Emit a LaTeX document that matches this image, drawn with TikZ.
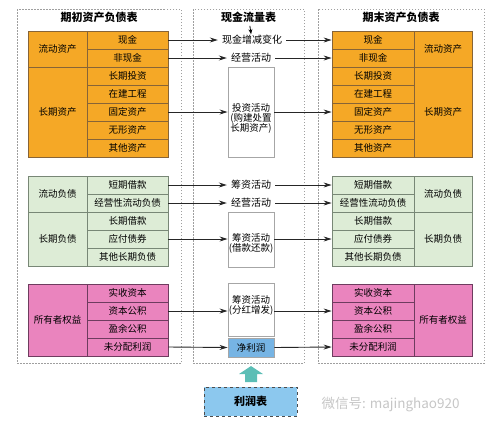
\documentclass[tikz,border=0pt]{standalone}
\usepackage{fontspec}
\setmainfont{Noto Sans CJK SC}
\usetikzlibrary{positioning,arrows.meta,calc}
\definecolor{orng}{RGB}{245,168,38}
\definecolor{orngline}{RGB}{135,100,55}
\definecolor{grn}{RGB}{221,236,214}
\definecolor{grnline}{RGB}{120,135,118}
\definecolor{pnk}{RGB}{234,132,190}
\definecolor{pnkline}{RGB}{110,60,95}
\definecolor{sky}{RGB}{140,200,238}
\definecolor{skyd}{RGB}{118,180,228}
\definecolor{tealc}{RGB}{92,190,182}
\newlength{\subw}
\setlength{\subw}{81pt}
\newlength{\catw}
\setlength{\catw}{59pt}
\tikzset{
  cell/.style  ={draw,inner sep=0pt,minimum height=18pt,line width=0.8pt,
                 font=\fontsize{9.5}{11}\selectfont},
  sub/.style   ={cell,minimum width=\subw},
  cat/.style   ={cell,minimum width=\catw},
  oc/.style    ={fill=orng,draw=orngline},
  gc/.style    ={fill=grn,draw=grnline},
  pc/.style    ={fill=pnk,draw=pnkline},
  frame/.style ={draw=gray!75,dash pattern=on 1.5pt off 1.5pt,line width=0.8pt},
  ttl/.style   ={font=\bfseries\fontsize{11}{13}\selectfont},
  flow/.style  ={font=\fontsize{10}{10}\selectfont,inner xsep=4pt,inner ysep=1pt},
  fbox/.style  ={draw=gray!70,fill=white,line width=0.9pt,minimum width=46pt,inner sep=0pt},
  ftext/.style ={font=\fontsize{9.5}{10}\selectfont,align=center,inner sep=0pt},
  line/.style  ={-{Stealth[length=8pt,width=5pt]},line width=0.9pt,black!85}
}

\begin{document}
\begin{tikzpicture}[x=1pt,y=-1pt]
\useasboundingbox (0,0) rectangle (500,429);

% frames
\draw[frame] (17,9)  rectangle (181,363);
\draw[frame] (193,9) rectangle (304,363);
\draw[frame] (318,9) rectangle (484,363);

\node[ttl] (tl) at (99,17)    {期初资产负债表};
\node[ttl] (tm) at (248.5,17) {现金流量表};
\node[ttl] (tr) at (401,17)   {期末资产负债表};

% opening balance sheet
\node[sub,oc] (l1) at (127.5,40)  {现金};
\node[sub,oc] (l2) at (127.5,58)  {非现金};
\node[sub,oc] (l3) at (127.5,76)  {长期投资};
\node[sub,oc] (l4) at (127.5,94)  {在建工程};
\node[sub,oc] (l5) at (127.5,112) {固定资产};
\node[sub,oc] (l6) at (127.5,130) {无形资产};
\node[sub,oc] (l7) at (127.5,148) {其他资产};
\node[cat,oc,minimum height=36pt] (la1) at (57.5,49)  {流动资产};
\node[cat,oc,minimum height=90pt] (la2) at (57.5,112) {长期资产};

\node[sub,gc] (g1) at (127.5,185) {短期借款};
\node[sub,gc] (g2) at (127.5,203) {经营性流动负债};
\node[sub,gc] (g3) at (127.5,221) {长期借款};
\node[sub,gc] (g4) at (127.5,239) {应付债券};
\node[sub,gc] (g5) at (127.5,257) {其他长期负债};
\node[cat,gc,minimum height=36pt] (lg1) at (57.5,194) {流动负债};
\node[cat,gc,minimum height=54pt] (lg2) at (57.5,239) {长期负债};

\node[sub,pc] (p1) at (127.5,293) {实收资本};
\node[sub,pc] (p2) at (127.5,311) {资本公积};
\node[sub,pc] (p3) at (127.5,329) {盈余公积};
\node[sub,pc] (p4) at (127.5,347) {未分配利润};
\node[cat,pc,minimum height=72pt] (lp) at (57.5,320) {所有者权益};

% closing balance sheet
\node[sub,oc,minimum width=82pt] (r1) at (373,40)  {现金};
\node[sub,oc,minimum width=82pt] (r2) at (373,58)  {非现金};
\node[sub,oc,minimum width=82pt] (r3) at (373,76)  {长期投资};
\node[sub,oc,minimum width=82pt] (r4) at (373,94)  {在建工程};
\node[sub,oc,minimum width=82pt] (r5) at (373,112) {固定资产};
\node[sub,oc,minimum width=82pt] (r6) at (373,130) {无形资产};
\node[sub,oc,minimum width=82pt] (r7) at (373,148) {其他资产};
\node[cat,oc,minimum width=58pt,minimum height=36pt] (ra1) at (443,49)  {流动资产};
\node[cat,oc,minimum width=58pt,minimum height=90pt] (ra2) at (443,112) {长期资产};

\node[sub,gc,minimum width=82pt] (rg1) at (373,185) {短期借款};
\node[sub,gc,minimum width=82pt] (rg2) at (373,203) {经营性流动负债};
\node[sub,gc,minimum width=82pt] (rg3) at (373,221) {长期借款};
\node[sub,gc,minimum width=82pt] (rg4) at (373,239) {应付债券};
\node[sub,gc,minimum width=82pt] (rg5) at (373,257) {其他长期负债};
\node[cat,gc,minimum width=58pt,minimum height=36pt] (rlg1) at (443,194) {流动负债};
\node[cat,gc,minimum width=58pt,minimum height=54pt] (rlg2) at (443,239) {长期负债};

\node[sub,pc,minimum width=82pt] (rp1) at (373,293) {实收资本};
\node[sub,pc,minimum width=82pt] (rp2) at (373,311) {资本公积};
\node[sub,pc,minimum width=82pt] (rp3) at (373,329) {盈余公积};
\node[sub,pc,minimum width=82pt] (rp4) at (373,347) {未分配利润};
\node[cat,pc,minimum width=58pt,minimum height=72pt] (rlp) at (443,320) {所有者权益};

% cash flow statement
\node[flow] (cash) at (252,40)  {现金增减变化};
\node[flow] (op1)  at (251,58)  {经营活动};
\node[fbox,minimum height=90pt] (inv) at (251,112) {};
\node[ftext] at (251,118) {投资活动\\(购建处置\\长期资产)};
\node[flow] (fin1) at (251,185) {筹资活动};
\node[flow] (op2)  at (251,203) {经营活动};
\node[fbox,minimum height=55pt] (fin2) at (251,239.5) {};
\node[ftext] at (251,243) {筹资活动\\(借款还款)};
\node[fbox,minimum height=53pt] (fin3) at (251,309.5) {};
\node[ftext] at (251,305.5) {筹资活动\\(分红增发)};
\node[fbox,fill=skyd,minimum height=19pt,font=\fontsize{9.5}{11}\selectfont] (np) at (251,347.5) {净利润};

\draw[-{Stealth[length=5pt,width=4pt]},line width=0.8pt] (tm) -- (cash);

\draw[line] (l1.east) -- (cash.west);
\draw[line] (cash.east) -- (r1.west);
\draw[line] (l2.east) -- (op1.west);
\draw[line] (op1.east) -- (r2.west);
\draw[line] (l5.east) -- (l5.east -| inv.west);
\draw[line] (r5.west -| inv.east) -- (r5.west);
\draw[line] (g1.east) -- (fin1.west);
\draw[line] (fin1.east) -- (rg1.west);
\draw[line] (g2.east) -- (op2.west);
\draw[line] (op2.east) -- (rg2.west);
\draw[line] (g4.east) -- (g4.east -| fin2.west);
\draw[line] (rg4.west -| fin2.east) -- (rg4.west);
\draw[line] (p2.east) -- (p2.east -| fin3.west);
\draw[line] (rp2.west -| fin3.east) -- (rp2.west);
\draw[line] (p4.east) -- (np.west);
\draw[line] (np.east) -- (rp4.west);

% income statement
\node[draw=black!70,dashed,fill=sky,minimum width=93pt,minimum height=29pt,
      font=\bfseries\fontsize{11}{13}\selectfont] (is) at (250.5,401.5) {利润表};
\coordinate (up) at (251,382);
\fill[tealc] (up) ++(-6,0) -- ++(0,-8) -- ++(-6,0) -- ++(12,-8)
             -- ++(12,8) -- ++(-6,0) -- ++(0,8) -- cycle;

\node[text=gray!45,font=\fontsize{13.5}{16}\selectfont,anchor=west] (wm) at (318,405) {微信号: majinghao920};

\end{tikzpicture}
\end{document}
